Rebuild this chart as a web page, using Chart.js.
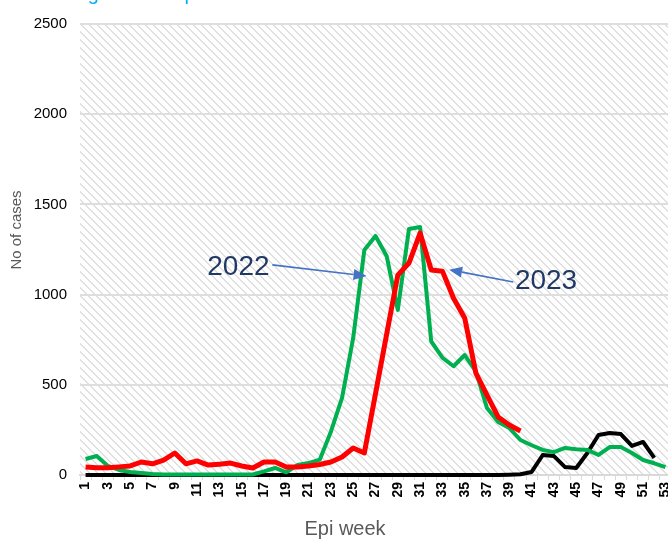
<!DOCTYPE html>
<html>
<head>
<meta charset="utf-8">
<script src="https://cdn.jsdelivr.net/npm/chart.js@4/dist/chart.umd.min.js"></script>
<style>
  html, body { margin: 0; padding: 0; background: #ffffff; overflow: hidden; }
  #wrap { width: 668px; height: 541px; overflow: hidden; position: relative; }
  canvas { display: block; }
</style>
</head>
<body>
<div id="wrap"><canvas id="c" width="672" height="541"></canvas></div>
<script>
// Epi weeks 1..53
const weeks = [1,2,3,4,5,6,7,8,9,10,11,12,13,14,15,16,17,18,19,20,21,22,23,24,25,26,27,28,29,30,31,32,33,34,35,36,37,38,39,40,41,42,43,44,45,46,47,48,49,50,51,52,53];

// Weekly case counts per year
const cases2021 = [0,0,0,0,0,0,0,0,0,0,0,0,0,0,0,0,0,0,0,0,0,0,0,0,0,0,0,0,0,0,0,0,0,0,0,0,0,0,2,4,17,111,105,44,39,122,222,233,227,161,183,95,null];
const cases2022 = [89,105,50,28,17,11,5,3,3,3,3,3,3,3,3,3,20,39,15,55,66,85,240,427,760,1247,1325,1214,915,1364,1375,740,650,603,665,575,371,294,260,194,165,139,127,150,143,139,111,155,155,122,83,65,44];
const cases2023 = [44,40,40,45,50,72,62,83,122,62,78,55,60,66,50,39,72,72,44,44,50,58,72,100,150,122,450,780,1108,1175,1341,1136,1130,980,870,565,443,322,277,244];

const yTicks = [0, 500, 1000, 1500, 2000, 2500];

// Year callouts: text anchor and arrow, in (week index, cases) units
const callouts = [
  { text: '2022', align: 'right', at: [16.5, 1150], from: [16.75, 1165], to: [25.2, 1103] },
  { text: '2023', align: 'left',  at: [38.5, 1073], from: [38.35, 1070], to: [32.6, 1138] }
];

const FONT = '"Liberation Sans", Arial, sans-serif';

// Diagonal hatch used as the plot background
function makeHatch() {
  const s = 8;
  const t = document.createElement('canvas');
  t.width = s; t.height = s;
  const g = t.getContext('2d');
  g.fillStyle = '#ffffff';
  g.fillRect(0, 0, s, s);
  g.fillStyle = '#e0e0e0';
  for (let i = 0; i < s; i++) {
    g.fillRect(i, i, 1, 1);
    g.fillRect((i + 1) % s, i, 1, 1);
  }
  return g.createPattern(t, 'repeat');
}

const hatchPlugin = {
  id: 'hatch',
  beforeDraw(chart) {
    const { ctx, chartArea: a } = chart;
    ctx.save();
    ctx.fillStyle = makeHatch();
    ctx.fillRect(a.left, a.top, a.right - a.left, a.bottom - a.top);
    ctx.restore();
  }
};

// Heading line and axis titles
const textPlugin = {
  id: 'texts',
  afterDraw(chart) {
    const ctx = chart.ctx;
    ctx.save();
    ctx.font = '20px ' + FONT;
    ctx.fillStyle = '#00B0F0';
    ctx.textAlign = 'left';
    ctx.textBaseline = 'alphabetic';
    ctx.fillText('Dengue cases per week', 51, 0);

    ctx.fillStyle = '#595959';
    ctx.font = '20px ' + FONT;
    ctx.textAlign = 'center';
    ctx.textBaseline = 'middle';
    ctx.fillText('Epi week', 345, 529);

    ctx.translate(17, 230);
    ctx.rotate(-Math.PI / 2);
    ctx.font = '15px ' + FONT;
    ctx.fillText('No of cases', 0, 0);
    ctx.restore();
  }
};

const calloutPlugin = {
  id: 'callouts',
  afterDatasetsDraw(chart) {
    const { ctx, scales: { x, y } } = chart;
    ctx.save();
    callouts.forEach(c => {
      const fx = x.getPixelForValue(c.from[0]), fy = y.getPixelForValue(c.from[1]);
      const tx = x.getPixelForValue(c.to[0]), ty = y.getPixelForValue(c.to[1]);
      const ang = Math.atan2(ty - fy, tx - fx);
      const head = 13, half = 5.5;
      const bx = tx - head * Math.cos(ang), by = ty - head * Math.sin(ang);
      ctx.strokeStyle = '#4472C4';
      ctx.fillStyle = '#4472C4';
      ctx.lineWidth = 1.6;
      ctx.beginPath();
      ctx.moveTo(fx, fy);
      ctx.lineTo(bx, by);
      ctx.stroke();
      ctx.beginPath();
      ctx.moveTo(tx, ty);
      ctx.lineTo(bx + half * Math.sin(ang), by - half * Math.cos(ang));
      ctx.lineTo(bx - half * Math.sin(ang), by + half * Math.cos(ang));
      ctx.closePath();
      ctx.fill();
      ctx.font = '28px ' + FONT;
      ctx.fillStyle = '#1F3864';
      ctx.textAlign = c.align;
      ctx.textBaseline = 'middle';
      ctx.fillText(c.text, x.getPixelForValue(c.at[0]), y.getPixelForValue(c.at[1]));
    });
    ctx.restore();
  }
};

function line(label, data, color, width) {
  return {
    label, data,
    borderColor: color,
    backgroundColor: color,
    borderWidth: width,
    pointRadius: 0,
    pointHoverRadius: 0,
    tension: 0,
    fill: false,
    spanGaps: false,
    clip: false,
    borderJoinStyle: 'round',
    borderCapStyle: 'butt'
  };
}

new Chart(document.getElementById('c'), {
  type: 'line',
  data: {
    labels: weeks,
    datasets: [
      line('2023', cases2023, '#FF0000', 5),
      line('2022', cases2022, '#00B050', 4),
      line('2021', cases2021, '#000000', 4)
    ]
  },
  options: {
    responsive: false,
    animation: false,
    events: [],
    layout: { padding: { top: 24, right: 1, bottom: 0, left: 0 } },
    plugins: {
      legend: { display: false },
      tooltip: { enabled: false },
      title: { display: false }
    },
    scales: {
      x: {
        type: 'category',
        offset: true,
        grid: {
          display: true,
          offset: true,
          drawOnChartArea: false,
          drawTicks: true,
          tickLength: 5,
          color: '#d9d9d9',
          lineWidth: 1
        },
        border: { display: true, color: '#d9d9d9', width: 2 },
        ticks: {
          autoSkip: false,
          minRotation: 90,
          maxRotation: 90,
          padding: 2,
          color: '#000000',
          font: { family: FONT, size: 14, weight: 'bold' },
          callback: function (v, i) { return weeks[i] % 2 === 1 ? String(weeks[i]) : ''; }
        },
        title: { display: false },
        afterFit(scale) { scale.height = 66; scale.paddingLeft = 0; scale.paddingRight = 0; }
      },
      y: {
        min: 0,
        max: 2500,
        afterBuildTicks(scale) { scale.ticks = yTicks.map(v => ({ value: v })); },
        grid: {
          color: (ctx) => ctx.tick && ctx.tick.value === 0 ? 'rgba(0,0,0,0)' : '#dedede',
          lineWidth: 2,
          drawTicks: false
        },
        border: { display: false },
        ticks: {
          padding: 13,
          color: '#000000',
          font: { family: FONT, size: 15 },
          callback: (v) => String(v)
        },
        title: { display: false },
        afterFit(scale) { scale.width = 80; scale.paddingTop = 0; scale.paddingBottom = 0; }
      }
    }
  },
  plugins: [hatchPlugin, textPlugin, calloutPlugin]
});
</script>
</body>
</html>
